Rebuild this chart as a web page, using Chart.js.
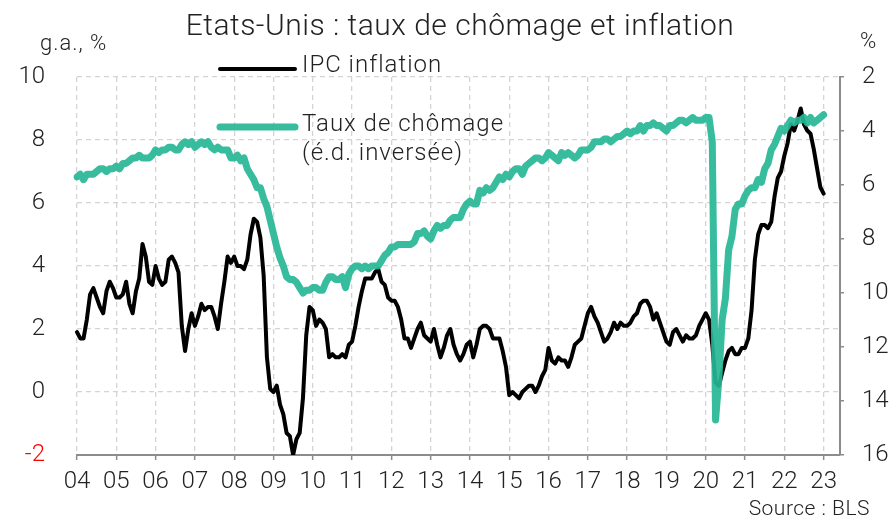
<!DOCTYPE html>
<html lang="fr">
<head>
<meta charset="utf-8">
<title>Etats-Unis : taux de chômage et inflation</title>
<script src="https://cdn.jsdelivr.net/npm/chart.js@4.4.1/dist/chart.umd.min.js"></script>
<style>
  html, body { margin: 0; padding: 0; background: #fff; }
  #wrap { position: relative; width: 896px; height: 519px; }
</style>
</head>
<body>
<div id="wrap"><canvas id="chomageChart" width="896" height="519"></canvas></div>
<script>
// Monthly series, Jan 2004 -> Jan 2023
const firstYear = 2004;
const axisMonths = 234; // axis runs Jan 2004 -> Jun 2023

// CPI, % year on year (left axis)
const inflation = [
  1.9, 1.7, 1.7, 2.3, 3.1, 3.3, 3.0, 2.7, 2.5, 3.2, 3.5, 3.3,   // 2004
  3.0, 3.0, 3.1, 3.5, 2.8, 2.5, 3.2, 3.6, 4.7, 4.3, 3.5, 3.4,   // 2005
  4.0, 3.6, 3.4, 3.5, 4.2, 4.3, 4.1, 3.8, 2.1, 1.3, 2.0, 2.5,   // 2006
  2.1, 2.4, 2.8, 2.6, 2.7, 2.7, 2.4, 2.0, 2.8, 3.5, 4.3, 4.1,   // 2007
  4.3, 4.0, 4.0, 3.9, 4.2, 5.0, 5.5, 5.4, 4.9, 3.7, 1.1, 0.1,   // 2008
  0.0, 0.2, -0.4, -0.7, -1.3, -1.4, -2.0, -1.5, -1.3, -0.2, 1.8, 2.7, // 2009
  2.6, 2.1, 2.3, 2.2, 2.0, 1.1, 1.2, 1.1, 1.1, 1.2, 1.1, 1.5,   // 2010
  1.6, 2.1, 2.7, 3.2, 3.6, 3.6, 3.6, 3.8, 3.9, 3.5, 3.4, 3.0,   // 2011
  2.9, 2.9, 2.7, 2.3, 1.7, 1.7, 1.4, 1.7, 2.0, 2.2, 1.8, 1.7,   // 2012
  1.6, 2.0, 1.5, 1.1, 1.4, 1.8, 2.0, 1.5, 1.2, 1.0, 1.2, 1.5,   // 2013
  1.6, 1.1, 1.5, 2.0, 2.1, 2.1, 2.0, 1.7, 1.7, 1.7, 1.3, 0.8,   // 2014
  -0.1, 0.0, -0.1, -0.2, 0.0, 0.1, 0.2, 0.2, 0.0, 0.2, 0.5, 0.7, // 2015
  1.4, 1.0, 0.9, 1.1, 1.0, 1.0, 0.8, 1.1, 1.5, 1.6, 1.7, 2.1,   // 2016
  2.5, 2.7, 2.4, 2.2, 1.9, 1.6, 1.7, 1.9, 2.2, 2.0, 2.2, 2.1,   // 2017
  2.1, 2.2, 2.4, 2.5, 2.8, 2.9, 2.9, 2.7, 2.3, 2.5, 2.2, 1.9,   // 2018
  1.6, 1.5, 1.9, 2.0, 1.8, 1.6, 1.8, 1.7, 1.7, 1.8, 2.1, 2.3,   // 2019
  2.5, 2.3, 1.5, 0.3, 0.2, 0.6, 1.0, 1.3, 1.4, 1.2, 1.2, 1.4,   // 2020
  1.4, 1.7, 2.6, 4.2, 5.0, 5.3, 5.3, 5.2, 5.4, 6.2, 6.8, 7.0,   // 2021
  7.5, 7.9, 8.5, 8.3, 8.6, 9.0, 8.5, 8.3, 8.2, 7.7, 7.1, 6.5,   // 2022
  6.3                                                           // 2023
];

// Unemployment rate, % (right axis, reversed)
const unemployment = [
  5.7, 5.6, 5.8, 5.6, 5.6, 5.6, 5.5, 5.4, 5.4, 5.5, 5.4, 5.4,   // 2004
  5.3, 5.4, 5.2, 5.2, 5.1, 5.0, 5.0, 4.9, 5.0, 5.0, 5.0, 4.9,   // 2005
  4.7, 4.8, 4.7, 4.7, 4.6, 4.6, 4.7, 4.7, 4.5, 4.4, 4.5, 4.4,   // 2006
  4.6, 4.5, 4.4, 4.5, 4.4, 4.6, 4.7, 4.6, 4.7, 4.7, 4.7, 5.0,   // 2007
  5.0, 4.9, 5.1, 5.0, 5.4, 5.6, 5.8, 6.1, 6.1, 6.5, 6.8, 7.3,   // 2008
  7.8, 8.3, 8.7, 9.0, 9.4, 9.5, 9.5, 9.6, 9.8, 10.0, 9.9, 9.9,  // 2009
  9.8, 9.8, 9.9, 9.9, 9.6, 9.4, 9.4, 9.5, 9.5, 9.4, 9.8, 9.3,   // 2010
  9.1, 9.0, 9.0, 9.1, 9.0, 9.1, 9.0, 9.0, 9.0, 8.8, 8.6, 8.5,   // 2011
  8.3, 8.3, 8.2, 8.2, 8.2, 8.2, 8.2, 8.1, 7.8, 7.8, 7.7, 7.9,   // 2012
  8.0, 7.7, 7.5, 7.6, 7.5, 7.5, 7.3, 7.2, 7.2, 7.2, 6.9, 6.7,   // 2013
  6.6, 6.7, 6.7, 6.2, 6.3, 6.1, 6.2, 6.1, 5.9, 5.7, 5.8, 5.6,   // 2014
  5.7, 5.5, 5.4, 5.4, 5.6, 5.3, 5.2, 5.1, 5.0, 5.0, 5.1, 5.0,   // 2015
  4.8, 4.9, 5.0, 5.1, 4.8, 4.9, 4.8, 4.9, 5.0, 4.9, 4.7, 4.7,   // 2016
  4.7, 4.6, 4.4, 4.4, 4.4, 4.3, 4.3, 4.4, 4.3, 4.2, 4.2, 4.1,   // 2017
  4.0, 4.1, 4.0, 4.0, 3.8, 4.0, 3.8, 3.8, 3.7, 3.8, 3.8, 3.9,   // 2018
  4.0, 3.8, 3.8, 3.7, 3.6, 3.6, 3.7, 3.6, 3.5, 3.6, 3.6, 3.6,   // 2019
  3.5, 3.5, 4.4, 14.7, 13.2, 11.0, 10.2, 8.4, 7.9, 6.9, 6.7, 6.7, // 2020
  6.4, 6.2, 6.1, 6.1, 5.8, 5.9, 5.4, 5.2, 4.7, 4.5, 4.2, 3.9,   // 2021
  4.0, 3.8, 3.6, 3.7, 3.6, 3.6, 3.5, 3.7, 3.5, 3.7, 3.6, 3.5,   // 2022
  3.4                                                           // 2023
];

const leftRange = { min: -2, max: 10, step: 2 };
const rightRange = { min: 2, max: 16, step: 2 };

const FONT = 'Roboto, "Open Sans", "DejaVu Sans", sans-serif';
const TEAL = 'rgba(38, 182, 150, 0.92)';
const GRID = '#d4d4d4';
const AXIS = '#8c8c8c';
const TEXT = '#222';

const labels = [];
for (let i = 0; i < axisMonths; i++) {
  const y = firstYear + Math.floor(i / 12);
  const m = (i % 12) + 1;
  labels.push(y + '-' + String(m).padStart(2, '0'));
}
const isJanuary = i => i % 12 === 0;

// title, unit labels, legend and source drawn straight on the canvas
const decorations = {
  id: 'decorations',
  afterDraw(chart) {
    const c = chart.ctx;
    c.save();
    c.fillStyle = TEXT;
    c.textBaseline = 'alphabetic';

    c.font = '300 30px ' + FONT;
    c.letterSpacing = '0.5px';
    c.textAlign = 'center';
    c.fillText('Etats-Unis : taux de chômage et inflation', 460, 35);

    c.font = '300 22px ' + FONT;
    c.letterSpacing = '1px';
    c.textAlign = 'left';
    c.fillText('g.a., %', 40, 50);
    c.fillText('%', 860, 48);

    // legend
    c.lineCap = 'round';
    c.strokeStyle = '#000';
    c.lineWidth = 4;
    c.beginPath(); c.moveTo(220, 69); c.lineTo(295, 69); c.stroke();
    c.strokeStyle = TEAL;
    c.lineWidth = 7;
    c.beginPath(); c.moveTo(220, 127); c.lineTo(295, 127); c.stroke();

    c.font = '300 24px ' + FONT;
    c.letterSpacing = '1px';
    c.fillText('IPC inflation', 302, 72);
    c.fillText('Taux de chômage', 302, 131);
    c.fillText('(é.d. inversée)', 302, 160);

    c.font = '300 21px ' + FONT;
    c.letterSpacing = '0.5px';
    c.textAlign = 'right';
    c.fillText('Source : BLS', 870, 515);
    c.restore();
  }
};

new Chart(document.getElementById('chomageChart'), {
  type: 'line',
  data: {
    labels: labels,
    datasets: [
      {
        label: 'IPC inflation',
        data: inflation,
        yAxisID: 'y',
        borderColor: '#000',
        borderWidth: 4,
        pointRadius: 0,
        borderJoinStyle: 'round',
        borderCapStyle: 'round',
        order: 2
      },
      {
        label: 'Taux de chômage (é.d. inversée)',
        data: unemployment,
        yAxisID: 'y1',
        borderColor: TEAL,
        borderWidth: 7,
        pointRadius: 0,
        borderJoinStyle: 'round',
        borderCapStyle: 'round',
        order: 1
      }
    ]
  },
  options: {
    responsive: false,
    animation: false,
    devicePixelRatio: 1,
    layout: { padding: { top: 77, left: 0, right: 0, bottom: 0 } },
    plugins: {
      legend: { display: false },
      title: { display: false },
      tooltip: { enabled: false }
    },
    scales: {
      x: {
        type: 'category',
        offset: false,
        grid: {
          color: GRID,
          lineWidth: 1.3,
          tickColor: AXIS,
          tickLength: 5,
          tickWidth: 1.5,
          tickBorderDash: []
        },
        border: { display: true, color: AXIS, width: 2, dash: [5, 4] },
        ticks: {
          autoSkip: false,
          maxRotation: 0,
          padding: 8,
          color: TEXT,
          font: { family: FONT, size: 24, weight: '300' },
          callback: (v, i) => isJanuary(i) ? String((firstYear + i / 12) % 100).padStart(2, '0') : null
        },
        afterFit: s => { s.height = 64; }
      },
      y: {
        position: 'left',
        min: leftRange.min,
        max: leftRange.max,
        grid: { color: GRID, lineWidth: 1.3, drawTicks: false },
        border: { display: false, dash: [5, 4] },
        ticks: {
          stepSize: leftRange.step,
          padding: 32,
          color: ctx => ctx.tick.value === -2 ? '#ff0000' : TEXT,
          font: { family: FONT, size: 24, weight: '300' }
        },
        afterFit: s => { s.width = 77; }
      },
      y1: {
        position: 'right',
        reverse: true,
        min: rightRange.min,
        max: rightRange.max,
        grid: { drawOnChartArea: false, color: AXIS, tickLength: 4, lineWidth: 1.5 },
        border: { display: true, color: AXIS, width: 2 },
        ticks: {
          stepSize: rightRange.step,
          padding: 18,
          color: TEXT,
          font: { family: FONT, size: 24, weight: '300' }
        },
        afterFit: s => { s.width = 56; }
      }
    }
  },
  plugins: [decorations]
});
</script>
</body>
</html>
